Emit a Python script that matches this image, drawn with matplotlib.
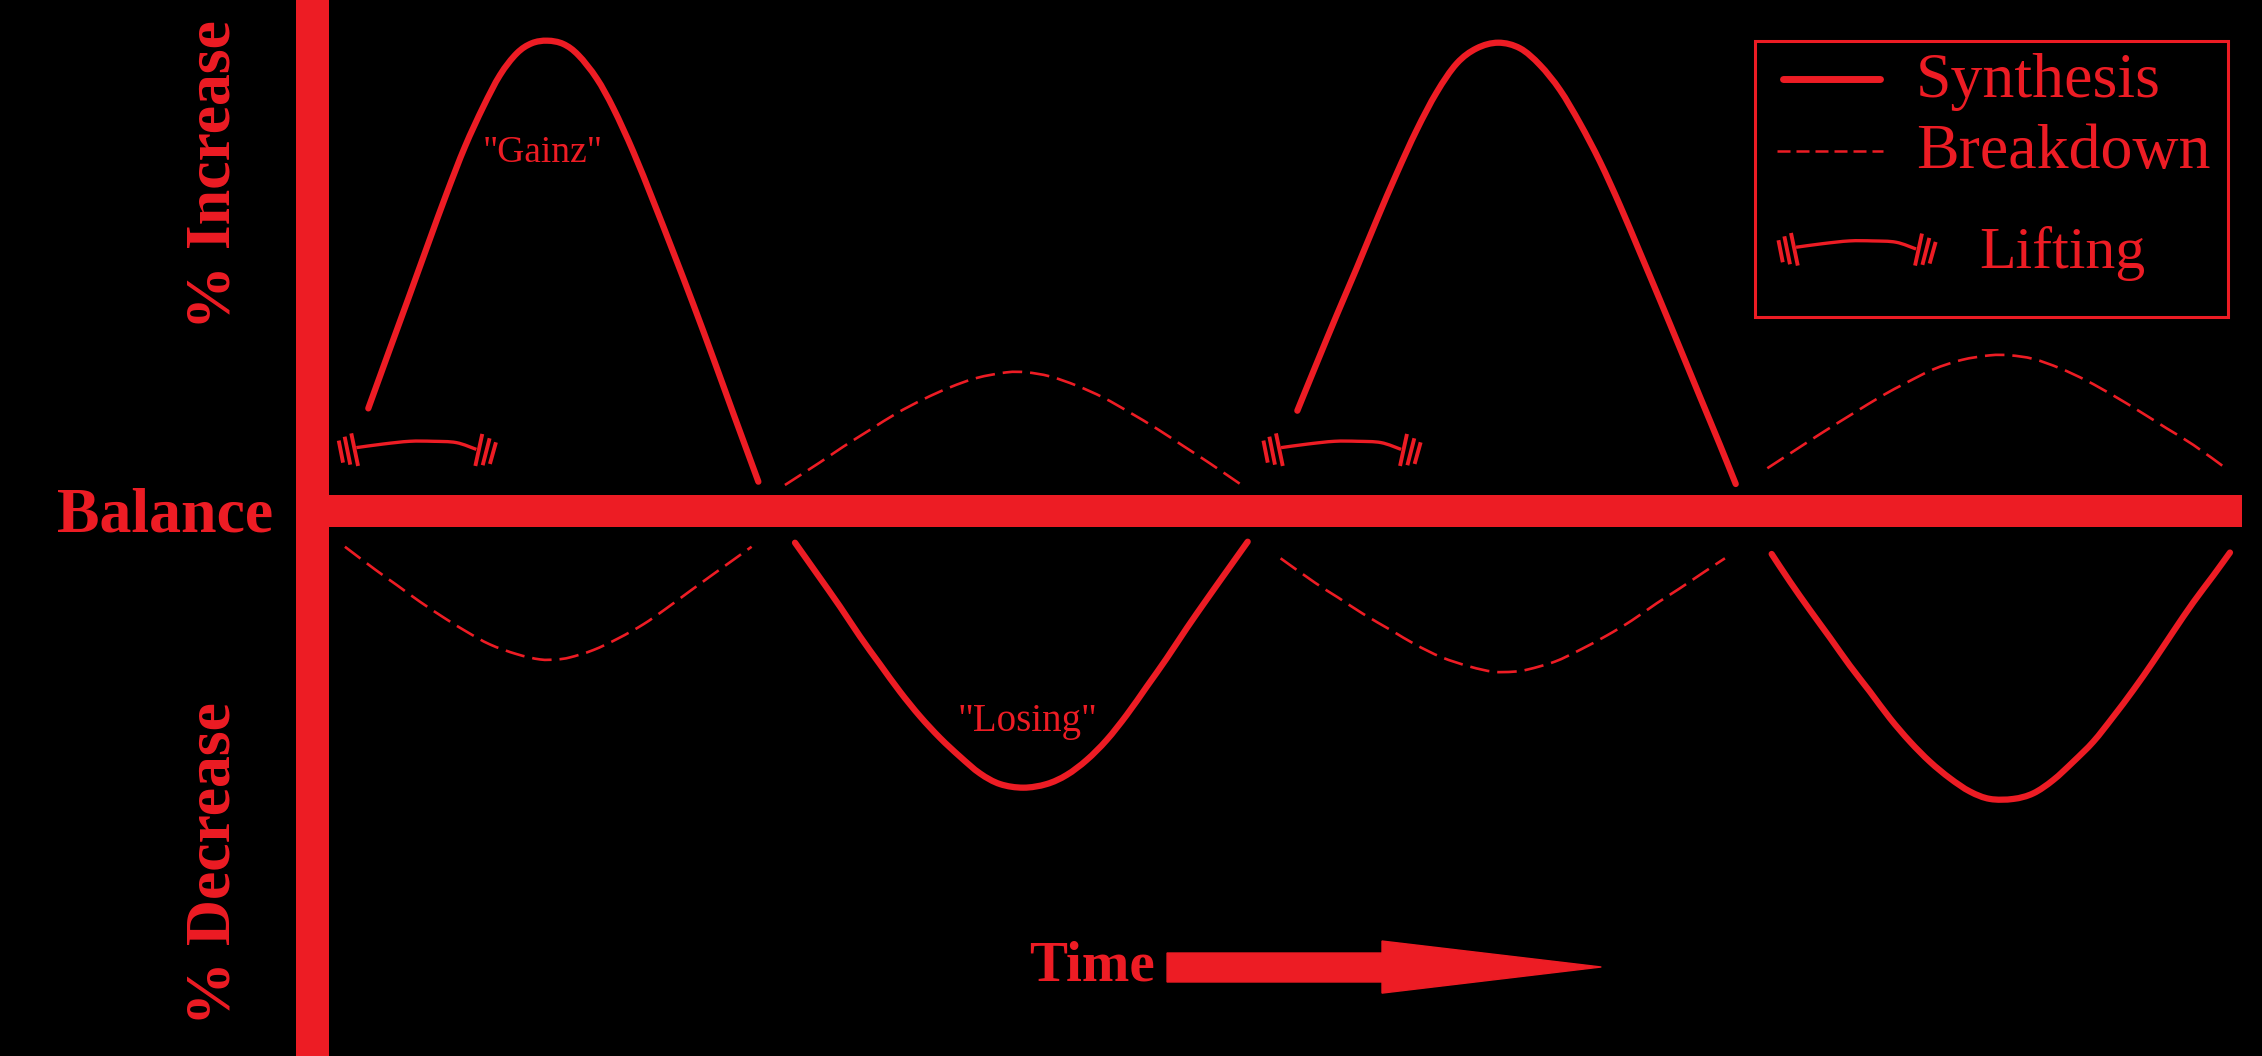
import matplotlib
matplotlib.use("Agg")
import matplotlib.pyplot as plt
from matplotlib.patches import Rectangle, Polygon, PathPatch
from matplotlib.path import Path

RED = "#ED1C24"
plt.rcParams["font.family"] = ["Liberation Serif", "DejaVu Serif"]

# Curves (x = time, y = level; balance is near y = 354)
syn1_x = [255.3, 270.4, 283.1, 296.9, 309.6, 322.3, 335.0, 346.6, 358.2, 368.6, 379.4, 390.5, 400.9,
          413.6, 425.2, 439.0, 452.9, 466.8, 480.6, 494.5, 508.3, 525.7]
syn1_y = [283.1, 241.5, 206.8, 168.7, 134.1, 101.7, 74, 52, 37, 30, 28.2, 30.5, 38.2,
          54.3, 75.1, 105.2, 139.5, 175, 211, 248.5, 286.5, 333.9]
syn2_x = [551.1, 566.1, 582.3, 596.2, 610, 623.9, 637.7, 651.6, 665.5, 679.3, 693.2, 709.4, 725.5,
          739.4, 753.3, 767.1, 781, 794.9, 808.7, 822.6, 836.5, 850.3, 864.9]
syn2_y = [376.2, 397.4, 420.5, 441.3, 460.5, 479.5, 496.5, 511.5, 524.5, 536.1, 543.5, 546, 543.5,
          537.2, 526.8, 513, 495.6, 476, 456.4, 435.5, 415.5, 396, 375.5]
syn3_x = [899.3, 912.7, 926.6, 940.4, 954.3, 968.2, 982.0, 995.9, 1009.8, 1023.6, 1038.6, 1053.7,
          1067.5, 1081.4, 1095.2, 1109.1, 1123, 1136.8, 1150.7, 1164.6, 1178.4, 1192.3, 1203.2]
syn3_y = [284.7, 251.9, 218.4, 186, 152.5, 120.2, 90.2, 64, 44, 33.5, 29.6, 33.5,
          45.1, 62.4, 85.5, 112.1, 142.5, 175, 208, 241.5, 275, 308.5, 335.5]
syn4_x = [1228.1, 1240.8, 1254.7, 1268.5, 1282.4, 1296.2, 1310.1, 1324, 1337.8, 1351.7, 1365.6, 1379.4,
          1395.6, 1409.5, 1423.3, 1437.2, 1451.1, 1464.9, 1478.8, 1492.6, 1506.5, 1520.4, 1534.2, 1545.8]
syn4_y = [384, 403.2, 423, 442, 461.5, 479.4, 497.9, 514.1, 528, 539.5, 548.7, 553.8,
          553.8, 549.9, 540.7, 528, 514.1, 496.8, 478.3, 458.6, 437.8, 417.5, 399, 383]

brk1_x = [239.1, 259.9, 275, 291.1, 308.4, 323.5, 339.6, 358.1, 374.3, 385.9, 395.1, 411.3, 428.6,
          445.9, 461, 477.1, 492.1, 507.2, 521]
brk1_y = [379, 394.7, 405.5, 417.1, 428.6, 437.9, 446.7, 453.4, 457.1, 457.1, 455.7, 450.6, 442.5,
          432.8, 422.4, 410.6, 399.7, 388.9, 379]
brk2_x = [544.1, 568.4, 584.6, 603, 621.5, 640, 658.5, 677, 697.8, 711.6, 727.8, 746.3, 764.8,
          783.3, 801.8, 820.2, 838.7, 860.7]
brk2_y = [336.2, 320.5, 309.6, 298, 286.5, 276.8, 268.5, 262, 258.1, 258.1, 260.9, 267.3, 275.6,
          286, 297.1, 309.1, 321.2, 336.2]
brk3_x = [887.7, 911.5, 927.7, 945, 964.7, 980.8, 999.3, 1019, 1035.1, 1049, 1059.4, 1077.9, 1095.2,
          1113.7, 1131, 1148.4, 1164.5, 1180.7, 1195.7]
brk3_y = [387, 403.9, 414.3, 425.6, 437.1, 446.6, 455.6, 462.1, 465.6, 465.6, 464, 458.6, 450.5,
          440.6, 430.2, 418.2, 407.8, 396.9, 387]
brk4_x = [1225.1, 1250, 1266.2, 1284.7, 1304.4, 1321.7, 1340.2, 1359.8, 1379.5, 1393.3, 1409.5, 1428,
          1446.5, 1465, 1483.4, 1501.9, 1520.4, 1542.4]
brk4_y = [324.6, 308.4, 298, 286.5, 274.5, 265.2, 256, 249.5, 246.3, 246.3, 248.8, 255.3,
          263.9, 274.2, 285.3, 296.9, 308.4, 324.2]

synthesis = [(syn1_x, syn1_y), (syn2_x, syn2_y), (syn3_x, syn3_y), (syn4_x, syn4_y)]
breakdown = [(brk1_x, brk1_y), (brk2_x, brk2_y), (brk3_x, brk3_y), (brk4_x, brk4_y)]

# Barbell glyph, relative to the bar's left end
bar_dx = [0, 18.5, 37, 53, 69.3, 83.2]
bar_dy = [0, -2.5, -4.4, -4.4, -3.5, 1.2]
plates = [((-3.5, -9.9), (1.2, 12.7)), ((-8.1, -7.6), (-4.2, 11.8)), ((-12.2, -4.9), (-9.2, 10.4)),
          ((87.3, -9.5), (82.5, 12.7)), ((92.4, -6.5), (87.6, 12.2)), ((96.8, -3.7), (92.6, 11.3))]
barbell_origins = [(247, 310.3), (888, 310.3), (1245, 171.4)]

legend_labels = ["Synthesis", "Breakdown", "Lifting"]

fig = plt.figure(figsize=(22.62, 10.56), dpi=100, facecolor="black")
ax = fig.add_axes([0, 0, 1, 1])
ax.set_xlim(0, 1568)
ax.set_ylim(732, 0)
ax.axis("off")


def smooth_path(x, y):
    """Smooth Bezier path passing through every read point."""
    pts = list(zip(x, y))
    verts = [pts[0]]
    codes = [Path.MOVETO]
    n = len(pts)
    for i in range(n - 1):
        p0 = pts[max(i - 1, 0)]
        p1 = pts[i]
        p2 = pts[i + 1]
        p3 = pts[min(i + 2, n - 1)]
        c1 = (p1[0] + (p2[0] - p0[0]) / 6, p1[1] + (p2[1] - p0[1]) / 6)
        c2 = (p2[0] - (p3[0] - p1[0]) / 6, p2[1] - (p3[1] - p1[1]) / 6)
        verts += [c1, c2, p2]
        codes += [Path.CURVE4, Path.CURVE4, Path.CURVE4]
    return Path(verts, codes)


# Axes bars
ax.add_patch(Rectangle((205, 0), 23, 732, fc=RED, ec="none"))
ax.add_patch(Rectangle((205, 343), 1349, 22, fc=RED, ec="none"))

for x, y in synthesis:
    ax.add_patch(PathPatch(smooth_path(x, y), fc="none", ec=RED, lw=4.5,
                           capstyle="round", joinstyle="round"))
for x, y in breakdown:
    ax.add_patch(PathPatch(smooth_path(x, y), fc="none", ec=RED, lw=1.9,
                           ls=(0, (7.4, 3.0))))


def barbell(ox, oy):
    ax.add_patch(PathPatch(smooth_path([ox + d for d in bar_dx], [oy + d for d in bar_dy]),
                           fc="none", ec=RED, lw=2.4))
    for (x0, y0), (x1, y1) in plates:
        ax.plot([ox + x0, ox + x1], [oy + y0, oy + y1], color=RED, lw=2.8, solid_capstyle="butt")


for ox, oy in barbell_origins:
    barbell(ox, oy)

# Legend
ax.add_patch(Rectangle((1216.5, 28.6), 328, 191.4, fc="none", ec=RED, lw=2.2))
ax.plot([1236, 1303], [55, 55], color=RED, lw=5.0, solid_capstyle="round")
ax.plot([1232, 1305], [105, 105], color=RED, lw=1.8, ls=(0, (5.2, 2.4)))
for label, x, y, fs in zip(legend_labels, [1328, 1328, 1372], [67.5, 116.6, 185.8], [46, 46, 43]):
    ax.text(x, y, label, color=RED, fontsize=fs, ha="left", va="baseline")

# Annotations
ax.text(376, 112, '"Gainz"', color=RED, fontsize=27, ha="center", va="baseline")
ax.text(712, 506.8, '"Losing"', color=RED, fontsize=28, ha="center", va="baseline")
ax.text(114.5, 358, "Balance", color=RED, fontsize=46, fontweight="bold", ha="center", va="center")
ax.text(149, 121, "% Increase", color=RED, fontsize=46, fontweight="bold", rotation=90,
        ha="center", va="center")
ax.text(149, 598.5, "% Decrease", color=RED, fontsize=46, fontweight="bold", rotation=90,
        ha="center", va="center")
ax.text(757, 670, "Time", color=RED, fontsize=41, fontweight="bold", ha="center", va="center")

# Time arrow
ax.add_patch(Polygon([(809, 660.6), (958, 660.6), (958, 652.3), (1110, 670.3),
                      (958, 688.4), (958, 680.7), (809, 680.7)], closed=True, fc=RED, ec=RED, lw=1))

fig.savefig("out.png", dpi=100, facecolor="black")
